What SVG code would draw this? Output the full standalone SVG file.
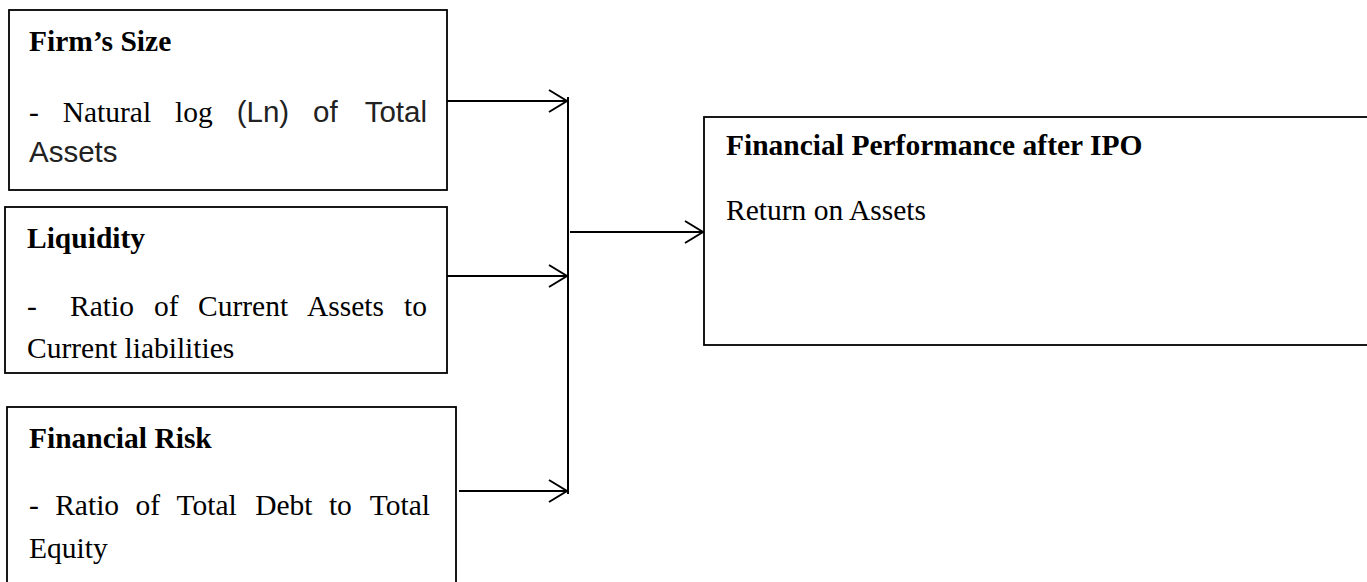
<svg xmlns="http://www.w3.org/2000/svg" width="1367" height="582" viewBox="0 0 1367 582">
<style>
.box{fill:#fff;stroke:#000;stroke-width:1.8}
.t{font-family:"Liberation Serif","Times New Roman",serif;font-size:29.5px;fill:#000}
.b{font-weight:bold}
.a{font-family:"Liberation Sans",Arial,sans-serif;font-size:29.5px;fill:#222}
.e{text-anchor:end}
.c{fill:none;stroke:#000;stroke-width:2}
</style>
<defs>
<marker id="arr" markerWidth="22" markerHeight="26" refX="20" refY="12" orient="auto" markerUnits="userSpaceOnUse">
<path d="M2,1 L20,12 L2,23" fill="none" stroke="#000" stroke-width="2"/>
</marker>
</defs>
<rect width="1367" height="582" fill="#fff"/>
<g id="firm-size">
<rect class="box" x="9" y="10" width="438" height="180"/>
<text class="t b" x="29" y="51">Firm’s Size</text>
<text class="t" x="29" y="122">-</text>
<text class="t" x="62.7" y="122">Natural</text>
<text class="t" x="175.1" y="122">log</text>
<text class="a" x="236.7" y="122">(Ln)</text>
<text class="a" x="313.1" y="122">of</text>
<text class="a e" x="427" y="122">Total</text>
<text class="a" x="29" y="162">Assets</text>
</g>
<g id="liquidity">
<rect class="box" x="5" y="207" width="442" height="166"/>
<text class="t b" x="27" y="248">Liquidity</text>
<text class="t" x="27" y="316">-</text>
<text class="t" x="70" y="316">Ratio</text>
<text class="t" x="154" y="316">of</text>
<text class="t" x="198" y="316">Current</text>
<text class="t" x="307" y="316">Assets</text>
<text class="t e" x="427" y="316">to</text>
<text class="t" x="27" y="358">Current liabilities</text>
</g>
<g id="financial-risk">
<rect class="box" x="7" y="407" width="449" height="190"/>
<text class="t b" x="29" y="448">Financial Risk</text>
<text class="t" x="29" y="515">-</text>
<text class="t" x="55.2" y="515">Ratio</text>
<text class="t" x="135.5" y="515">of</text>
<text class="t" x="176.5" y="515">Total</text>
<text class="t" x="255.2" y="515">Debt</text>
<text class="t" x="328.9" y="515">to</text>
<text class="t e" x="430" y="515">Total</text>
<text class="t" x="29" y="558">Equity</text>
</g>
<g id="financial-performance">
<rect class="box" x="704" y="117" width="680" height="228"/>
<text class="t b" x="726" y="155">Financial Performance after IPO</text>
<text class="t" x="726" y="220">Return on Assets</text>
</g>
<g id="connectors">
<line class="c" x1="447" y1="101" x2="567" y2="101" marker-end="url(#arr)"/>
<line class="c" x1="447" y1="276" x2="567" y2="276" marker-end="url(#arr)"/>
<line class="c" x1="459" y1="491" x2="567" y2="491" marker-end="url(#arr)"/>
<line class="c" x1="568" y1="97" x2="568" y2="494"/>
<line class="c" x1="570" y1="232" x2="703" y2="232" marker-end="url(#arr)"/>
</g>
</svg>
